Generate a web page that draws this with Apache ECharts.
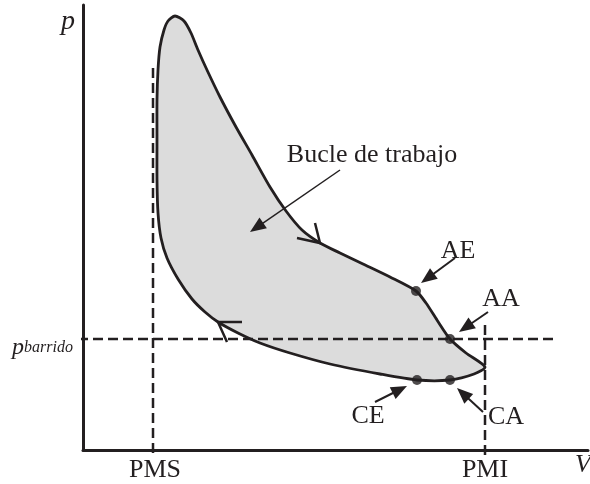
<!DOCTYPE html>
<html>
<head>
<meta charset="utf-8">
<script src="https://cdn.jsdelivr.net/npm/echarts@6/dist/echarts.min.js"></script>
<style>
  html, body { margin: 0; padding: 0; background: #fff; }
  #chart { width: 590px; height: 484px; }
</style>
</head>
<body>
<div id="chart"></div>
<script>
const INK = '#231f20';
const SERIF = '"Liberation Serif", "DejaVu Serif", serif';

// p-V loop, clockwise from the combustion peak (arbitrary units)
const loopV = [92, 101, 108, 115, 124, 137, 153, 169, 187, 203, 219, 237, 257, 280, 307, 333, 343, 354, 367, 383, 402,
               391, 367, 334, 297, 247, 207, 177, 155, 135,
               122, 109, 95, 84, 78, 75, 74, 74, 74, 75, 77, 81, 85];
const loopP = [434, 429, 417, 400, 380, 353, 323, 295, 263, 239, 220, 207, 197, 186, 173, 159, 147, 130, 111, 97, 83,
               76, 70, 70, 76, 86, 97, 107, 117, 128,
               138, 151, 171, 192, 212, 237, 270, 310, 350, 380, 403, 420, 429];

// valve events
const stateNames = ['AE', 'AA', 'CE', 'CA'];
const stateV = [333, 367, 334, 367];
const stateP = [159, 111, 70, 70];

// reference levels
const vPMS = 70;
const vPMI = 402;
const pBarrido = 111;

// direction chevrons: tip, arm 1, arm 2
const chevrons = [
  [237, 207, 214, 212, 232, 227],
  [135, 128, 159, 128, 144, 108]
];

// callout arrows: tail -> tip
const callouts = [
  [257, 280, 167, 218],
  [372, 192, 338, 167],
  [405, 138, 376, 118],
  [292, 48, 324, 64],
  [400, 38, 374, 62]
];

// text labels: v, p, text, size, italic
const labels = [
  [-15, 428, 'p', 28, true],
  [72, -20, 'PMS', 26, false],
  [402, -20, 'PMI', 26, false],
  [500, -15, 'V', 26, true],
  [289, 295, 'Bucle de trabajo', 26, false],
  [375, 199, 'AE', 26, false],
  [418, 151, 'AA', 26, false],
  [285, 34, 'CE', 26, false],
  [423, 33, 'CA', 26, false]
];

const chart = echarts.init(document.getElementById('chart'), null, { renderer: 'canvas' });

const dashStyle = { color: INK, width: 2.5, type: [10, 5] };

const option = {
  backgroundColor: '#fff',
  animation: false,
  grid: { left: 83, top: 5, width: 505, height: 445 },
  xAxis: {
    type: 'value', min: 0, max: 505,
    axisLine: { show: true, onZero: false, lineStyle: { color: INK, width: 3 } },
    axisTick: { show: false }, axisLabel: { show: false }, splitLine: { show: false }
  },
  yAxis: {
    type: 'value', min: 0, max: 445,
    axisLine: { show: true, onZero: false, lineStyle: { color: INK, width: 3 } },
    axisTick: { show: false }, axisLabel: { show: false }, splitLine: { show: false }
  },
  series: [
    {
      // work loop
      type: 'custom',
      z: 2,
      data: [[0, 0]],
      renderItem: (params, api) => {
        const pts = loopV.map((v, i) => api.coord([v, loopP[i]]));
        return {
          type: 'polygon',
          shape: { points: pts, smooth: 0.25 },
          style: { fill: '#dcdcdc', stroke: INK, lineWidth: 2.8, lineJoin: 'round' }
        };
      }
    },
    {
      type: 'line', z: 3, clip: false, symbol: 'none', silent: true,
      data: [[vPMS, 382], [vPMS, -8]], lineStyle: dashStyle
    },
    {
      type: 'line', z: 3, clip: false, symbol: 'none', silent: true,
      data: [[vPMI, 125], [vPMI, -8]], lineStyle: dashStyle
    },
    {
      type: 'line', z: 3, clip: false, symbol: 'none', silent: true,
      data: [[-5, pBarrido], [474, pBarrido]], lineStyle: dashStyle
    },
    {
      // direction chevrons
      type: 'custom', z: 4,
      data: chevrons,
      renderItem: (params, api) => {
        const c = chevrons[params.dataIndex];
        return {
          type: 'polyline',
          shape: { points: [api.coord([c[2], c[3]]), api.coord([c[0], c[1]]), api.coord([c[4], c[5]])] },
          style: { stroke: INK, lineWidth: 2.5, fill: null }
        };
      }
    },
    {
      // callout arrows
      type: 'custom', z: 5,
      data: callouts,
      renderItem: (params, api) => {
        const a = callouts[params.dataIndex];
        const t = api.coord([a[0], a[1]]);
        const h = api.coord([a[2], a[3]]);
        const dx = h[0] - t[0], dy = h[1] - t[1];
        const len = Math.sqrt(dx * dx + dy * dy);
        const ux = dx / len, uy = dy / len;
        const hl = 16, hw = 6.5;
        const bx = h[0] - ux * hl, by = h[1] - uy * hl;
        const lw = params.dataIndex === 0 ? 1.5 : 2;
        return {
          type: 'group',
          children: [
            { type: 'line', shape: { x1: t[0], y1: t[1], x2: bx + ux * 2, y2: by + uy * 2 },
              style: { stroke: INK, lineWidth: lw } },
            { type: 'polygon',
              shape: { points: [h, [bx - uy * hw, by + ux * hw], [bx + uy * hw, by - ux * hw]] },
              style: { fill: INK } }
          ]
        };
      }
    },
    {
      type: 'scatter', z: 6,
      symbolSize: 10,
      itemStyle: { color: INK },
      data: stateV.map((v, i) => ({ name: stateNames[i], value: [v, stateP[i]] }))
    },
    {
      // text labels
      type: 'custom', z: 7,
      data: labels.map(l => [l[0], l[1]]),
      renderItem: (params, api) => {
        const l = labels[params.dataIndex];
        const p = api.coord([l[0], l[1]]);
        return {
          type: 'text', x: p[0], y: p[1],
          style: {
            text: l[2], fill: INK, fontFamily: SERIF, fontSize: l[3],
            fontStyle: l[4] ? 'italic' : 'normal',
            align: 'center', verticalAlign: 'middle'
          }
        };
      }
    },
    {
      // p_barrido label
      type: 'custom', z: 7,
      data: [[-71, pBarrido - 9]],
      renderItem: (params, api) => {
        const p = api.coord([-71, pBarrido - 9]);
        return {
          type: 'text', x: p[0], y: p[1],
          style: {
            text: '{p|p}{b|barrido}',
            align: 'left', verticalAlign: 'middle',
            rich: {
              p: { fontFamily: SERIF, fontStyle: 'italic', fontSize: 24, fill: INK },
              b: { fontFamily: SERIF, fontStyle: 'italic', fontSize: 16, fill: INK }
            }
          }
        };
      }
    }
  ]
};

chart.setOption(option);
</script>
</body>
</html>
